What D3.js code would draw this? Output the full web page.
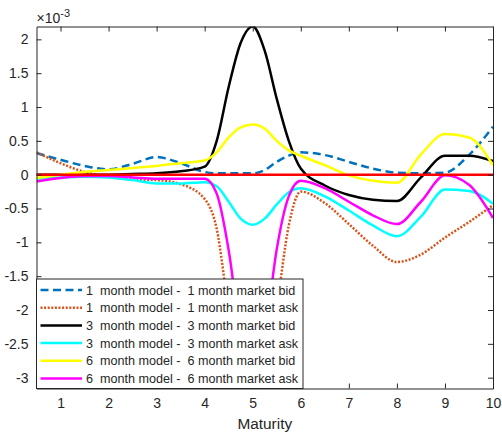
<!DOCTYPE html>
<html>
<head>
<meta charset="utf-8">
<script src="https://cdn.jsdelivr.net/npm/d3@7"></script>
<style>
  body { margin: 0; background: #fff; }
  text { font-family: "Liberation Sans", Arial, Helvetica, sans-serif; fill: #262626; }
</style>
</head>
<body>
<svg id="chart"></svg>
<script>
// maturities (years)
var maturity = [0.5, 1, 1.5, 2, 2.5, 3, 3.5, 4, 4.25, 4.5, 4.75, 5, 5.25, 5.5, 5.75, 6, 6.5, 7, 7.5, 8, 8.5, 9, 9.5, 10];

// model - market differences, in units of 1e-3
var bid1 = [0.32, 0.22, 0.13, 0.08, 0.16, 0.26, 0.17, 0.04, 0.02, 0.02, 0.02, 0.02, 0.07, 0.19, 0.28, 0.33, 0.29, 0.19, 0.09, 0.03, 0.02, 0.03, 0.29, 0.71];
var ask1 = [0.33, 0.17, 0.04, -0.03, -0.07, -0.08, -0.14, -0.36, -0.8, -2.0, -2.9, -3.1, -2.9, -1.95, -0.75, -0.25, -0.42, -0.73, -1.05, -1.29, -1.18, -0.93, -0.7, -0.45];
var bid3 = [0, 0, 0, 0, 0.01, 0.02, 0.05, 0.12, 0.5, 1.3, 1.95, 2.19, 1.83, 1.12, 0.5, 0.09, -0.16, -0.3, -0.37, -0.39, -0.04, 0.28, 0.28, 0.2];
var ask3 = [-0.06, -0.04, -0.03, -0.04, -0.08, -0.13, -0.13, -0.11, -0.17, -0.4, -0.65, -0.74, -0.65, -0.44, -0.26, -0.2, -0.32, -0.53, -0.75, -0.91, -0.62, -0.22, -0.24, -0.43];
var bid6 = [-0.05, 0, 0.04, 0.07, 0.1, 0.13, 0.17, 0.21, 0.33, 0.55, 0.7, 0.74, 0.68, 0.5, 0.36, 0.28, 0.14, -0.01, -0.09, -0.12, 0.3, 0.6, 0.55, 0.14];
var ask6 = [-0.1, -0.05, -0.02, -0.02, -0.04, -0.06, -0.06, -0.06, -0.28, -1.12, -2.4, -3.16, -2.4, -1.1, -0.32, -0.09, -0.2, -0.4, -0.6, -0.73, -0.4, -0.01, -0.15, -0.64];
var zeroLine = [0, 0];
var zeroX = [0.5, 10];

var legendLabels = [
  "1  month model -  1 month market bid",
  "1  month model -  1 month market ask",
  "3  month model -  3 month market bid",
  "3  month model -  3 month market ask",
  "6  month model -  6 month market bid",
  "6  month model -  6 month market ask"
];

var xTicks = [1, 2, 3, 4, 5, 6, 7, 8, 9, 10];
var yTicks = [-3, -2.5, -2, -1.5, -1, -0.5, 0, 0.5, 1, 1.5, 2];

var width = 502, height = 434;
var plotL = 36.5, plotR = 493, plotT = 26.5, plotB = 388.5;

var svg = d3.select("#chart")
    .attr("width", width)
    .attr("height", height);

var x = d3.scaleLinear().domain([0.5, 10]).range([plotL, plotR]);
var y = d3.scaleLinear().domain([-3.16, 2.19]).range([plotB, plotT]);

// line styles, same order as legend
var series = [
  { vals: bid1, color: "#0072BD", dash: "8,4.5", w: 2.5 },
  { vals: ask1, color: "#D95319", dash: "2,1.6", w: 2.5 },
  { vals: bid3, color: "#000000", dash: null, w: 2.5 },
  { vals: ask3, color: "#00FFFF", dash: null, w: 2.5 },
  { vals: bid6, color: "#FFFF00", dash: null, w: 2.5 },
  { vals: ask6, color: "#FF00FF", dash: null, w: 2.5 }
];

svg.append("defs").append("clipPath")
    .attr("id", "plotclip")
  .append("rect")
    .attr("x", plotL)
    .attr("y", plotT)
    .attr("width", plotR - plotL)
    .attr("height", plotB - plotT);

var line = d3.line()
    .x(function(d) { return x(d[0]); })
    .y(function(d) { return y(d[1]); })
    .curve(d3.curveMonotoneX);

var plot = svg.append("g").attr("clip-path", "url(#plotclip)");

series.forEach(function(s) {
  plot.append("path")
      .datum(d3.zip(maturity, s.vals))
      .attr("fill", "none")
      .attr("stroke", s.color)
      .attr("stroke-width", s.w)
      .attr("stroke-dasharray", s.dash)
      .attr("stroke-linejoin", "round")
      .attr("d", line);
});

// zero reference line on top
plot.append("path")
    .datum(d3.zip(zeroX, zeroLine))
    .attr("fill", "none")
    .attr("stroke", "#FF0000")
    .attr("stroke-width", 2.5)
    .attr("d", line);

// axes (matlab style box, ticks inside)
var tickLen = 5;
var fmt = function(d) { return String(d); };

var xb = svg.append("g")
    .attr("transform", "translate(0," + plotB + ")")
    .call(d3.axisBottom(x).tickValues(xTicks).tickSizeInner(-tickLen).tickSizeOuter(0).tickPadding(10).tickFormat(fmt));
var xt = svg.append("g")
    .attr("transform", "translate(0," + plotT + ")")
    .call(d3.axisTop(x).tickValues(xTicks).tickSizeInner(-tickLen).tickSizeOuter(0).tickFormat(""));
var yl = svg.append("g")
    .attr("transform", "translate(" + plotL + ",0)")
    .call(d3.axisLeft(y).tickValues(yTicks).tickSizeInner(-tickLen).tickSizeOuter(0).tickPadding(8).tickFormat(fmt));
var yr = svg.append("g")
    .attr("transform", "translate(" + plotR + ",0)")
    .call(d3.axisRight(y).tickValues(yTicks).tickSizeInner(-tickLen).tickSizeOuter(0).tickFormat(""));

[xb, xt, yl, yr].forEach(function(g) {
  g.select(".domain").attr("stroke", "#262626").attr("stroke-width", 1);
  g.selectAll(".tick line").attr("stroke", "#262626");
  g.selectAll(".tick text")
      .attr("font-family", "Liberation Sans, Arial, sans-serif")
      .attr("font-size", 14)
      .attr("fill", "#262626");
});

// exponent label
var expo = svg.append("text")
    .attr("x", plotL)
    .attr("y", 22.5)
    .attr("font-size", 14);
expo.append("tspan").text("\u00d710");
expo.append("tspan").attr("font-size", 11).attr("dy", -6).text("-3");

// x axis label
svg.append("text")
    .attr("x", (plotL + plotR) / 2)
    .attr("y", 429)
    .attr("text-anchor", "middle")
    .attr("font-size", 15.4)
    .text("Maturity");

// legend
var lg = svg.append("g").attr("transform", "translate(" + plotL + ",279)");
lg.append("rect")
    .attr("width", 266.5)
    .attr("height", plotB - 279)
    .attr("fill", "#fff")
    .attr("stroke", "#262626")
    .attr("stroke-width", 1);

var rowY = d3.scaleLinear().domain([0, 5]).range([11, 99.5]);

series.forEach(function(s, i) {
  var gy = rowY(i);
  lg.append("line")
      .attr("x1", 4).attr("x2", 45.5)
      .attr("y1", gy).attr("y2", gy)
      .attr("stroke", s.color)
      .attr("stroke-width", s.w)
      .attr("stroke-dasharray", s.dash);
  lg.append("text")
      .attr("x", 49.5)
      .attr("y", gy)
      .attr("dy", "0.36em")
      .attr("font-size", 12.6)
      .style("white-space", "pre")
      .text(legendLabels[i]);
});
</script>
</body>
</html>
